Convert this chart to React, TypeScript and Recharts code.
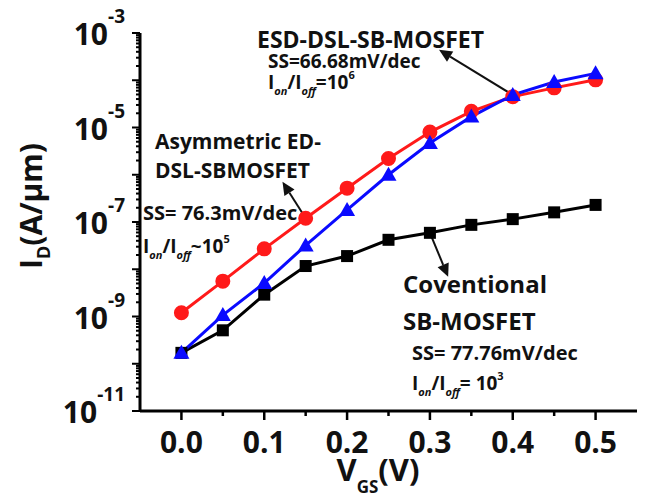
import { LineChart, Line, XAxis, YAxis, ReferenceLine, Customized } from "recharts";

// gate voltage sweep (V)
const vgs = [0, 0.05, 0.1, 0.15, 0.2, 0.25, 0.3, 0.35, 0.4, 0.45, 0.5];
// drain current (A/um)
const esdDsl = [1.7e-10, 1.07e-9, 5.1e-9, 3.2e-8, 1.8e-7, 1.0e-6, 4.7e-6, 1.7e-5, 4.9e-5, 9.2e-5, 1.4e-4];
const asymEdDsl = [1.2e-9, 5.6e-9, 2.7e-8, 1.2e-7, 5.2e-7, 2.2e-6, 8.0e-6, 2.2e-5, 4.5e-5, 6.9e-5, 1.02e-4];
const conventional = [1.7e-10, 5.1e-10, 2.9e-9, 1.17e-8, 1.9e-8, 4.2e-8, 5.9e-8, 8.7e-8, 1.15e-7, 1.6e-7, 2.3e-7];

const xTicks = [0, 0.05, 0.1, 0.15, 0.2, 0.25, 0.3, 0.35, 0.4, 0.45, 0.5];
const decades = [-11, -10, -9, -8, -7, -6, -5, -4, -3];

const FONT = "'Open Sans', sans-serif";
const RED = "#ff1a1a";
const BLUE = "#0a0aff";
const INK = "#111";

const rows = vgs.map((v, i) => ({
  v,
  esd: esdDsl[i],
  asym: asymEdDsl[i],
  conv: conventional[i],
}));

// log ticks: 1..9 within each decade, stop at the top decade
const yTicks: number[] = [];
decades.forEach((n) => {
  for (let m = 1; m <= 9; m++) {
    if (n === -3 && m > 1) break;
    yTicks.push(m * Math.pow(10, n));
  }
});

const XTick = ({ x, y, payload }: any) => {
  const major = Math.round(payload.value * 100) % 10 === 0;
  return (
    <g>
      <line x1={x} y1={y} x2={x} y2={y + (major ? 9 : 5)} stroke="#000" strokeWidth={2.5} />
      {major && (
        <text x={x} y={y + 42} textAnchor="middle" fontFamily={FONT} fontWeight={700} fontSize={30} fill={INK}>
          {payload.value.toFixed(1)}
        </text>
      )}
    </g>
  );
};

const YTick = ({ x, y, payload }: any) => {
  const exp = Math.log10(payload.value);
  const n = Math.round(exp);
  const major = Math.abs(exp - n) < 1e-6;
  const labelled = major && Math.abs(n) % 2 === 1;
  return (
    <g>
      <line x1={x} y1={y} x2={x - (major ? 8 : 4)} y2={y} stroke="#000" strokeWidth={2} />
      {labelled && (
        <text x={x - 15} y={y + 12} textAnchor="end" fontFamily={FONT} fontWeight={700} fontSize={30} fill={INK}>
          <tspan>10</tspan>
          <tspan fontSize={19} dy={-22}>{String(n)}</tspan>
        </text>
      )}
    </g>
  );
};

const Square = ({ cx, cy }: any) => (
  <rect x={cx - 6} y={cy - 6} width={12} height={12} fill="#000" />
);

const Triangle = ({ cx, cy }: any) => (
  <polygon points={`${cx},${cy - 8} ${cx + 8},${cy + 6} ${cx - 8},${cy + 6}`} fill={BLUE} />
);

const Arrow = ({ x1, y1, x2, y2 }: any) => {
  const a = Math.atan2(y2 - y1, x2 - x1);
  const len = 13;
  const half = 6;
  const bx = x2 - len * Math.cos(a);
  const by = y2 - len * Math.sin(a);
  const px = -Math.sin(a) * half;
  const py = Math.cos(a) * half;
  return (
    <g>
      <line x1={x1} y1={y1} x2={bx} y2={by} stroke={INK} strokeWidth={2} />
      <polygon points={`${x2},${y2} ${bx + px},${by + py} ${bx - px},${by - py}`} fill={INK} />
    </g>
  );
};

const Ratio = ({ x, y, op, exp }: { x: number; y: number; op: string; exp: string }) => (
  <text x={x} y={y} fontFamily={FONT} fontWeight={700} fontSize={19} fill={INK}>
    <tspan>I</tspan>
    <tspan fontSize={11} fontStyle="italic" dy={6}>on</tspan>
    <tspan dy={-6}>/I</tspan>
    <tspan fontSize={11} fontStyle="italic" dy={6}>off</tspan>
    <tspan dy={-6}>{op}10</tspan>
    <tspan fontSize={11} dy={-10}>{exp}</tspan>
  </text>
);

const Notes = () => (
  <g fontFamily={FONT} fontWeight={700} fill={INK}>
    <text x={257} y={48} fontSize={23}>ESD-DSL-SB-MOSFET</text>
    <text x={268} y={68} fontSize={19}>SS=66.68mV/dec</text>
    <Ratio x={268} y={89} op="=" exp="6" />

    <text x={155} y={149} fontSize={21}>Asymmetric ED-</text>
    <text x={155} y={178} fontSize={21}>DSL-SBMOSFET</text>
    <text x={143} y={220} fontSize={20}>SS= 76.3mV/dec</text>
    <Ratio x={143} y={253} op="~" exp="5" />

    <text x={403} y={293} fontSize={24}>Coventional</text>
    <text x={403} y={330} fontSize={24}>SB-MOSFET</text>
    <text x={412} y={360} fontSize={20}>SS= 77.76mV/dec</text>
    <Ratio x={412} y={390} op="= " exp="3" />

    <text transform="translate(42,206) rotate(-90)" textAnchor="middle" fontSize={30}>
      <tspan>I</tspan>
      <tspan fontSize={18} dy={8}>D</tspan>
      <tspan dy={-8}>(A/μm)</tspan>
    </text>
    <text x={378} y={481} textAnchor="middle" fontSize={31}>
      <tspan>V</tspan>
      <tspan fontSize={17} dy={12}>GS</tspan>
      <tspan dy={-12}>(V)</tspan>
    </text>
  </g>
);

export default function App() {
  return (
    <div style={{ position: "absolute", left: 0, top: 0, width: 645, height: 497, background: "#fff" }}>
      <LineChart width={645} height={497} data={rows} margin={{ top: 33, right: 8, bottom: 26, left: 0 }}>
        <XAxis
          dataKey="v"
          type="number"
          domain={[-0.05, 0.55]}
          ticks={xTicks}
          interval={0}
          allowDataOverflow
          height={60}
          tickSize={0}
          tickMargin={0}
          tickLine={false}
          tick={<XTick />}
          axisLine={{ stroke: "#000", strokeWidth: 3 }}
        />
        <YAxis
          type="number"
          scale="log"
          domain={[1e-11, 1e-3]}
          ticks={yTicks}
          interval={0}
          allowDataOverflow
          width={140}
          tickSize={0}
          tickMargin={0}
          tickLine={false}
          tick={<YTick />}
          axisLine={{ stroke: "#000", strokeWidth: 3 }}
        />
        <ReferenceLine segment={[{ x: vgs[8], y: esdDsl[8] }, { x: 0.311, y: 4.4e-4 }]} ifOverflow="visible" shape={<Arrow />} />
        <ReferenceLine segment={[{ x: vgs[3], y: asymEdDsl[3] }, { x: 0.122, y: 7.1e-7 }]} ifOverflow="visible" shape={<Arrow />} />
        <ReferenceLine segment={[{ x: vgs[6], y: conventional[6] }, { x: 0.322, y: 6.9e-9 }]} ifOverflow="visible" shape={<Arrow />} />
        <Line dataKey="conv" stroke="#000" strokeWidth={3} dot={<Square />} isAnimationActive={false} />
        <Line dataKey="asym" stroke={RED} strokeWidth={3} dot={{ r: 6, fill: RED, stroke: RED }} isAnimationActive={false} />
        <Line dataKey="esd" stroke={BLUE} strokeWidth={3} dot={<Triangle />} isAnimationActive={false} />
        <Customized component={Notes} />
      </LineChart>
    </div>
  );
}
